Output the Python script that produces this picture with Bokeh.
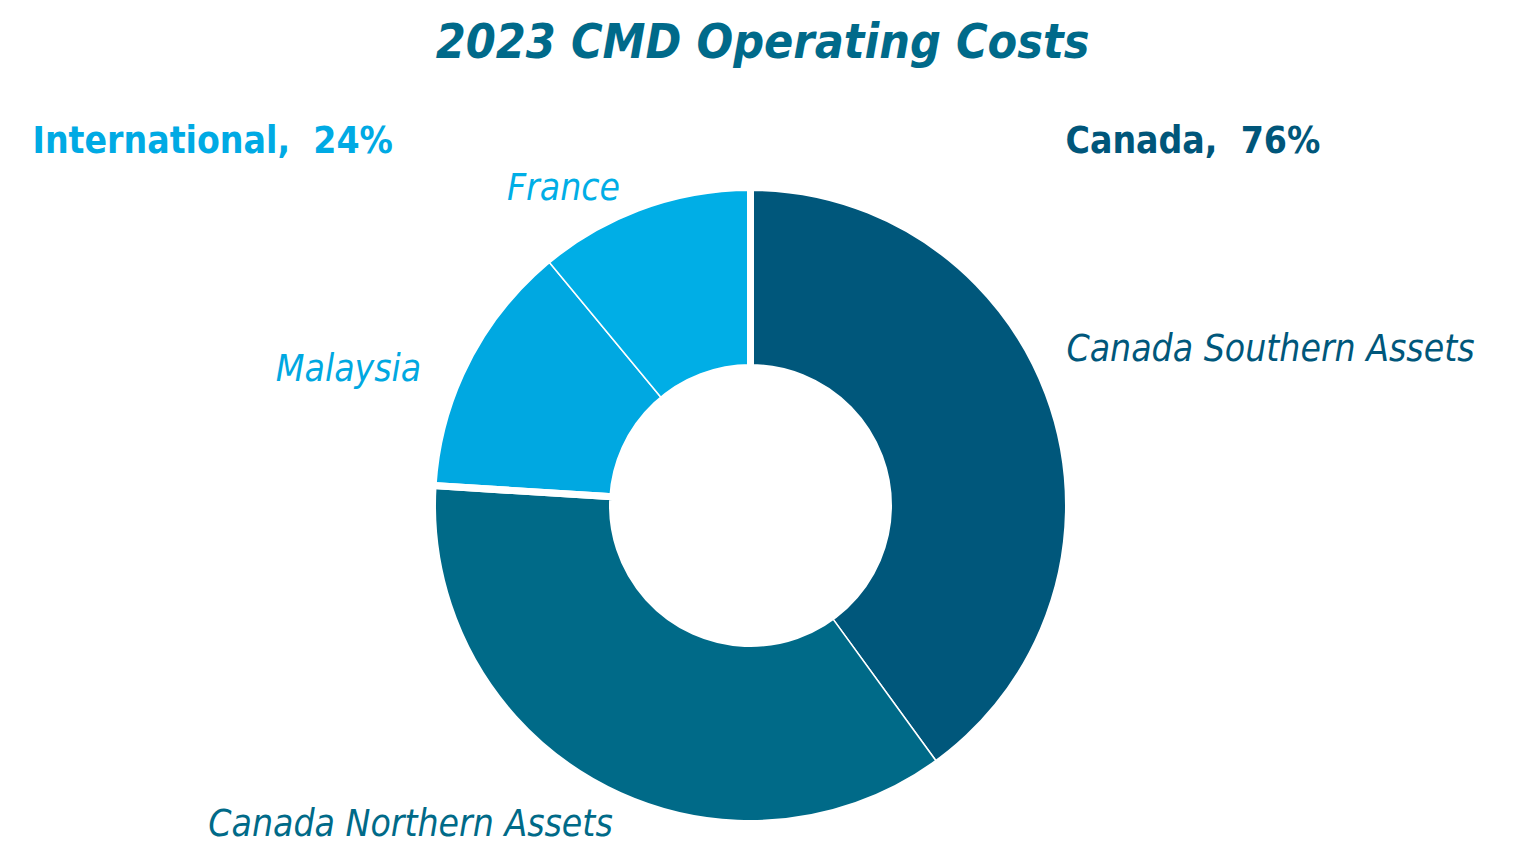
import math
from bokeh.plotting import figure
from bokeh.models import Range1d, ColumnDataSource
from bokeh.core.properties import value
from bokeh.embed import file_html
from bokeh.resources import INLINE

# ---- data ----
segments = ["Canada Southern Assets", "Canada Northern Assets", "Malaysia", "France"]
seg_values = [40, 36, 13, 11]
seg_groups = ["Canada", "Canada", "International", "International"]
groups = ["Canada", "International"]
group_pct = [76, 24]

# ---- styles ----
seg_colors = ["#00577B", "#006A88", "#00A8E1", "#00AEE6"]
group_colors = ["#00567A", "#00AAE4"]
title_color = "#006A8A"
FONT = "DejaVu Sans Condensed"

W, H = 1509, 848
p = figure(width=W, height=H, output_backend="svg", toolbar_location=None,
           x_range=Range1d(0, W), y_range=Range1d(849 - H, 849),
           min_border=0, outline_line_color=None)
p.axis.visible = False
p.grid.visible = False
p.background_fill_color = "white"
p.border_fill_color = "white"

cx, cy = 750, 344
r_out, r_in = 318, 138

total = sum(seg_values)
starts, ends = [], []
cum = 0
for v in seg_values:
    a0 = math.pi / 2 - 2 * math.pi * (cum + v) / total
    a1 = math.pi / 2 - 2 * math.pi * cum / total
    starts.append(a0)
    ends.append(a1)
    cum += v

src = ColumnDataSource(dict(start=starts, end=ends, color=seg_colors, name=segments))
p.annular_wedge(x=cx, y=cy, inner_radius=r_in, outer_radius=r_out,
                start_angle="start", end_angle="end", fill_color="color",
                line_color="white", line_width=1.5, source=src)

# group separators
g_starts, g_ends = [], []
cum = 0
for g in groups:
    gv = sum(v for v, gg in zip(seg_values, seg_groups) if gg == g)
    g_starts.append(math.pi / 2 - 2 * math.pi * (cum + gv) / total)
    g_ends.append(math.pi / 2 - 2 * math.pi * cum / total)
    cum += gv
p.annular_wedge(x=cx, y=cy, inner_radius=r_in, outer_radius=r_out,
                start_angle=g_starts, end_angle=g_ends, fill_alpha=0,
                line_color="white", line_width=7)

# title
p.text(x=[762], y=[809], text=["2023 CMD Operating Costs"], text_font=value(FONT),
       text_font_style="bold italic", text_font_size="48px", text_color=title_color,
       text_align="center", text_baseline="middle")

# group labels
group_x = [1065, 32]
group_y = [709, 709]
p.text(x=group_x, y=group_y,
       text=[f"{g}, \u00a0{v}%" for g, v in zip(groups, group_pct)],
       text_font=value(FONT), text_font_style="bold", text_font_size="37px",
       text_color=group_colors, text_align="left", text_baseline="middle")

# segment labels
lab_x = [1270, 410, 348, 563]
lab_y = [501, 26, 481, 662]
p.text(x=lab_x, y=lab_y, text=segments, text_font=value(FONT),
       text_font_style="italic", text_font_size="37px",
       text_color=[seg_colors[0], seg_colors[1], "#00A8E1", "#00AEE6"],
       text_align="center", text_baseline="middle")

open("out.html", "w").write(file_html(p, INLINE))
